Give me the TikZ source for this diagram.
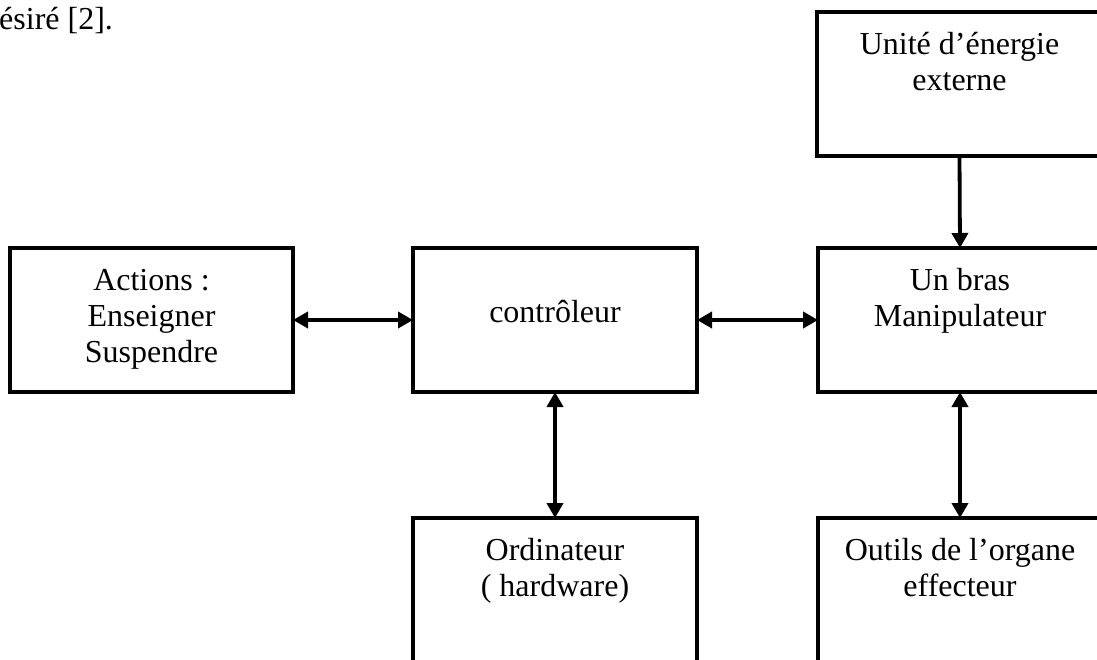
\documentclass[tikz,border=0pt]{standalone}
\usepackage{fontspec}
\setmainfont{Liberation Serif}
\usetikzlibrary{arrows.meta}
\begin{document}
\begin{tikzpicture}[x=1pt,y=-1pt,
  block/.style={draw, line width=4pt, inner sep=0pt, outer sep=0pt,
    minimum width=284pt, minimum height=144pt, anchor=north west},
  lbl/.style={anchor=north, inner sep=0pt, align=center,
    font=\fontsize{32}{36.3}\selectfont},
  head/.style={Triangle[length=15pt,width=16pt]},
  link/.style={line width=3.8pt, -{Triangle[length=15pt,width=16pt]}},
  biglink/.style={line width=3.8pt, {Triangle[length=15pt,width=16pt]}-{Triangle[length=15pt,width=16pt]}}]
  \useasboundingbox (0,0) rectangle (1097,659);
  \clip (0,0) rectangle (1097,659);

  % running text fragment
  \node[anchor=base west, inner sep=0pt, font=\fontsize{32}{36.3}\selectfont] (frag) at (-1,29) {ésiré [2].};

  % blocks
  \node[block, minimum width=285pt] (energy) at (817,12) {};
  \node[block, minimum width=283pt] (actions) at (10,248) {};
  \node[block] (ctrl) at (413,248) {};
  \node[block] (arm) at (818,248) {};
  \node[block, minimum height=150pt] (ordi) at (413,518) {};
  \node[block, minimum height=150pt] (tools) at (818,518) {};

  % block labels
  \node[lbl] (energyT) at ([yshift=-16.6pt]energy.north) {\strut Unité d’énergie\\externe};
  \node[lbl] (actionsT) at ([yshift=-16.6pt]actions.north) {\strut Actions :\\Enseigner\\Suspendre};
  \node[lbl] (ctrlT) at ([yshift=-48.6pt]ctrl.north) {\strut contrôleur};
  \node[lbl] (armT) at ([yshift=-16.6pt]arm.north) {\strut Un bras\\Manipulateur};
  \node[lbl] (ordiT) at ([yshift=-16.6pt]ordi.north) {\strut Ordinateur\\( hardware)};
  \node[lbl] (toolsT) at ([yshift=-16.6pt]tools.north) {\strut Outils de l’organe\\effecteur};

  % connectors
  \draw[biglink] (actions.east) -- (ctrl.west);
  \draw[biglink] (ctrl.east) -- (arm.west);
  \draw[link] (energy.south) -- (arm.north);
  \draw[biglink] (ctrl.south) -- (ordi.north);
  \draw[biglink] (arm.south) -- (tools.north);
\end{tikzpicture}
\end{document}
